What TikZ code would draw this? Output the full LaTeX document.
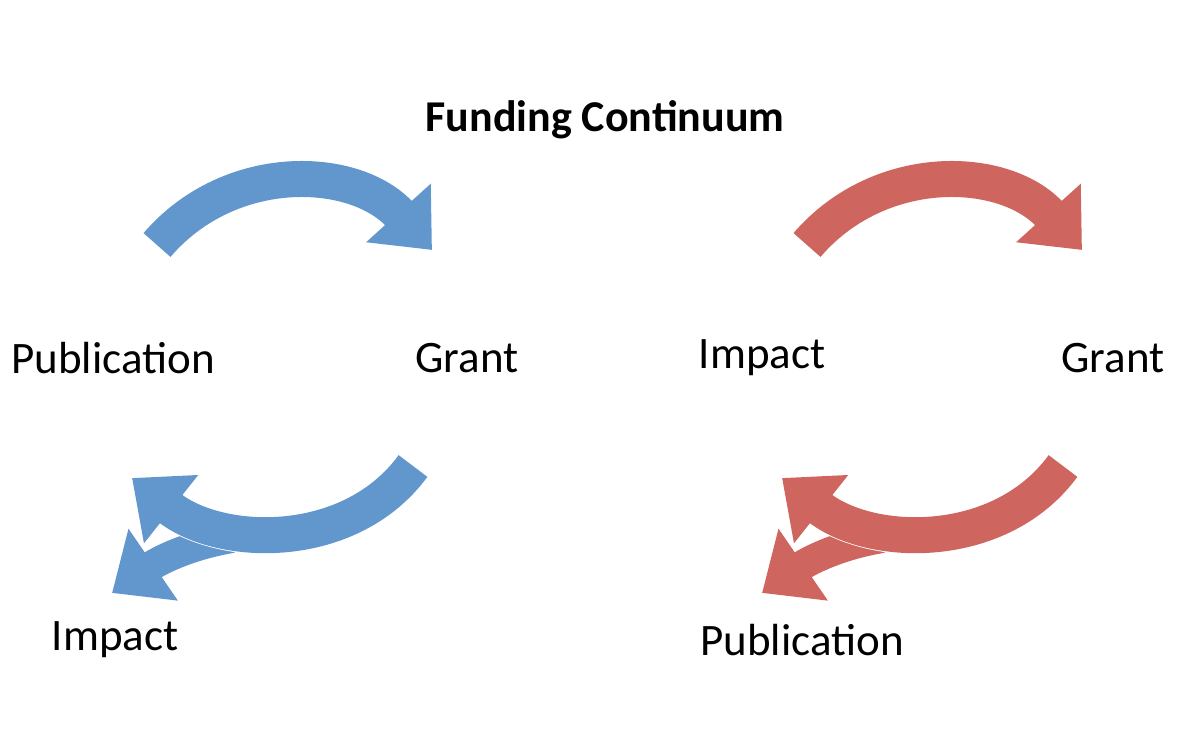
\documentclass[tikz,border=0pt]{standalone}
\usepackage{fontspec}
\setmainfont{Carlito}
\usetikzlibrary{arrows.meta}
\definecolor{cblue}{RGB}{98,151,205}
\definecolor{cred}{RGB}{207,101,95}
\begin{document}
\begin{tikzpicture}[x=1pt,y=-1pt,
  arr/.style={line width=36pt,-{Triangle[length=50pt,width=84pt]}},
  lab/.style={font=\fontsize{45}{52}\selectfont}]
\useasboundingbox (0,0) rectangle (1200,750);
\node[font=\fontsize{44}{50}\selectfont\bfseries] (title) at (605,120) {Funding Continuum};
\node[lab] (p1) at (113,358) {Publication};
\node[lab] (g1) at (467,358) {Grant};
\node[lab] (i2) at (762,358) {Impact};
\node[lab] (g2) at (1113,358) {Grant};
\node[lab] (i1) at (115,640) {Impact};
\node[lab] (p2) at (802,640) {Publication};
\foreach \dx/\c in {0/cblue,650/cred}{
  \begin{scope}[xshift=\dx]
  \coordinate (ta) at (157,245);
  \coordinate (ha) at (432,250);
  \draw[arr,\c] (ta) .. controls (230,160) and (355,165) .. (ha);
  \coordinate (tb) at (232,538);
  \coordinate (hb) at (112,593);
  \draw[arr,\c,line width=30pt] (tb) .. controls (190,545) and (160,560) .. (hb);
  \coordinate (tc) at (413,466);
  \coordinate (hc) at (132,478);
  \draw[white,line width=40pt,shorten >=40pt] (tc) .. controls (350,552) and (220,548) .. (hc);
  \draw[arr,\c] (tc) .. controls (350,552) and (220,548) .. (hc);
  \end{scope}}
\end{tikzpicture}
\end{document}
